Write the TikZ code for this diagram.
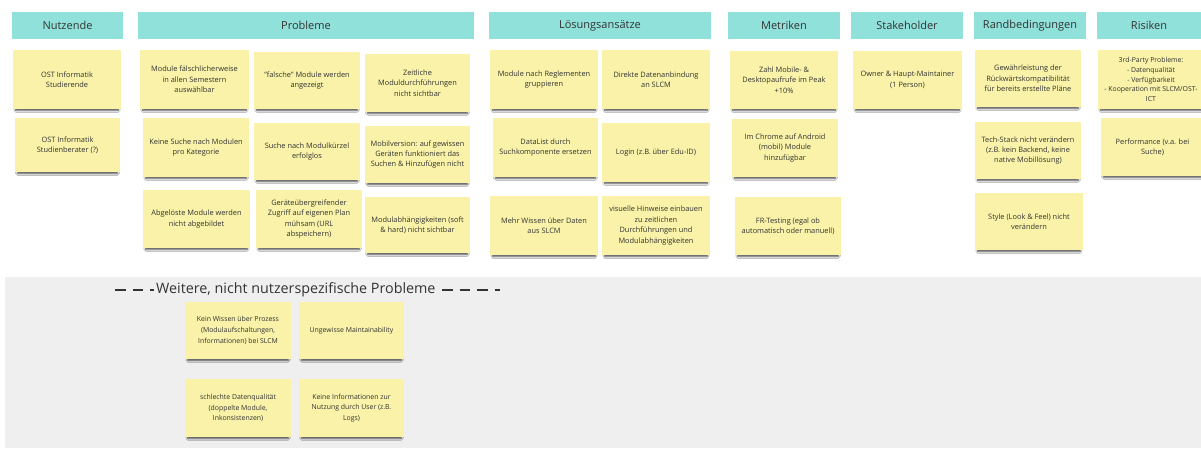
\documentclass[tikz,border=0pt]{standalone}
\usepackage{fontspec}
\setmainfont{Open Sans}
\usetikzlibrary{shadows.blur}

\definecolor{headteal}{HTML}{90E1DA}
\definecolor{stickyyellow}{HTML}{F9F2A8}
\definecolor{inkgray}{HTML}{333333}
\definecolor{framegray}{HTML}{EFEFEF}

\tikzset{
  header/.style={fill=headteal, text=inkgray, inner sep=0pt,
    font=\fontsize{11}{13}\selectfont},
  sticky/.style={fill=stickyyellow, text=inkgray, align=center, inner sep=1pt,
    font=\fontsize{7.4}{10.4}\selectfont,
    blur shadow={shadow xshift=0pt, shadow yshift=-3pt, shadow scale=0.95,
      shadow blur radius=2pt, shadow blur steps=6, shadow opacity=75}},
  smallsticky/.style={sticky, font=\fontsize{6.9}{10.6}\selectfont},
  titledash/.style={draw=inkgray, line width=2.4pt, dash pattern=on 10.5pt off 7pt},
}

% box from its corners: name, x1, y1, x2, y2, style, text
\newcommand{\cardat}[7]{%
  \node[#6, minimum width={(#4-#2)*1pt}, minimum height={(#5-#3)*1pt}]
    (#1) at ({(#2+#4)/2},{(#3+#5)/2}) {#7};}

\begin{document}
\begin{tikzpicture}[x=1pt, y=-1pt]
\useasboundingbox (0,0) rectangle (1201,448);
\fill[white] (0,0) rectangle (1201,448);

% frame for the further problems
\node[fill=framegray, inner sep=0pt, minimum width=1196pt, minimum height=171pt,
  anchor=north west] (frame) at (5,277) {};

% column headers
\cardat{hNutz}{12}{12}{123}{39}{header}{Nutzende}
\cardat{hProb}{138}{12}{474}{39}{header}{Probleme}
\cardat{hLoes}{489}{12}{711}{39}{header}{Lösungsansätze}
\cardat{hMetr}{728}{12}{840}{39}{header}{Metriken}
\cardat{hStak}{851}{12}{963}{39}{header}{Stakeholder}
\cardat{hRand}{974}{12}{1086}{39}{header}{Randbedingungen}
\cardat{hRisk}{1097}{12}{1201}{39}{header}{Risiken}

% Nutzende
\cardat{u1}{13}{50}{121}{109}{sticky}{OST Informatik\\Studierende}
\cardat{u2}{15}{118}{120}{172}{sticky}{OST Informatik\\Studienberater (?)}

% Probleme
\cardat{p1}{140}{50}{249}{109}{sticky}{Module fälschlicherweise\\in allen Semestern\\auswählbar}
\cardat{p2}{254}{52}{360}{109}{sticky}{"falsche" Module werden\\angezeigt}
\cardat{p3}{365}{54}{470}{112}{sticky}{Zeitliche\\Moduldurchführungen\\nicht sichtbar}
\cardat{p4}{143}{118}{249}{177}{sticky}{Keine Suche nach Modulen\\pro Kategorie}
\cardat{p5}{254}{123}{360}{180}{sticky}{Suche nach Modulkürzel\\erfolglos}
\cardat{p6}{365}{126}{470}{183}{sticky}{Mobilversion: auf gewissen\\Geräten funktioniert das\\Suchen \& Hinzufügen nicht}
\cardat{p7}{143}{190}{250}{248}{sticky}{Abgelöste Module werden\\nicht abgebildet}
\cardat{p8}{256}{190}{362}{248}{sticky}{Geräteübergreifender\\Zugriff auf eigenen Plan\\mühsam (URL\\abspeichern)}
\cardat{p9}{365}{197}{470}{253}{sticky}{Modulabhängigkeiten (soft\\\& hard) nicht sichtbar}

% Lösungsansätze
\cardat{l1}{490}{50}{598}{109}{sticky}{Module nach Reglementen\\gruppieren}
\cardat{l2}{602}{50}{710}{109}{sticky}{Direkte Datenanbindung\\an SLCM}
\cardat{l3}{493}{118}{598}{177}{sticky}{DataList durch\\Suchkomponente ersetzen}
\cardat{l4}{602}{123}{710}{182}{sticky}{Login (z.B. über Edu-ID)}
\cardat{l5}{490}{196}{598}{255}{sticky}{Mehr Wissen über Daten\\aus SLCM}
\cardat{l6}{602}{196}{710}{255}{sticky}{visuelle Hinweise einbauen\\zu zeitlichen\\Durchführungen und\\Modulabhängigkeiten}

% Metriken
\cardat{m1}{730}{51}{838}{109}{sticky}{Zahl Mobile- \&\\Desktopaufrufe im Peak\\+10\%}
\cardat{m2}{732}{119}{838}{177}{sticky}{Im Chrome auf Android\\(mobil) Module\\hinzufügbar}
\cardat{m3}{735}{197}{841}{255}{sticky}{FR-Testing (egal ob\\automatisch oder manuell)}

% Stakeholder
\cardat{s1}{853}{51}{962}{109}{sticky}{Owner \& Haupt-Maintainer\\(1 Person)}

% Randbedingungen
\cardat{r1}{975}{50}{1081}{107}{sticky}{Gewährleistung der\\Rückwärtskompatibilität\\für bereits erstellte Pläne}
\cardat{r2}{975}{122}{1081}{179}{sticky}{Tech-Stack nicht verändern\\(z.B. kein Backend, keine\\native Mobillösung)}
\cardat{r3}{975}{193}{1083}{250}{sticky}{Style (Look \& Feel) nicht\\verändern}

% Risiken
\cardat{k1}{1098}{50}{1204}{109}{sticky, font=\fontsize{6.9}{9.6}\selectfont}{3rd-Party Probleme:\\- Datenqualität\\- Verfügbarkeit\\- Kooperation mit SLCM/OST-\\ICT}
\cardat{k2}{1101}{118}{1204}{176}{sticky}{Performance (v.a. bei\\Suche)}

% further, not user specific problems
\coordinate (dl1) at (115,290);
\coordinate (dl2) at (154,290);
\coordinate (dr1) at (442,290);
\coordinate (dr2) at (500,290);
\draw[titledash] (dl1) -- (dl2);
\draw[titledash] (dr1) -- (dr2);
\node[anchor=west, inner sep=0pt, text=inkgray, font=\fontsize{14.3}{17}\selectfont]
  (ftitle) at (156,289.5) {Weitere, nicht nutzerspezifische Probleme};

\cardat{b1}{185}{302}{291}{359}{smallsticky}{Kein Wissen über Prozess\\(Modulaufschaltungen,\\Informationen) bei SLCM}
\cardat{b2}{299}{302}{404}{359}{smallsticky}{Ungewisse Maintainability}
\cardat{b3}{185}{379}{291}{437}{smallsticky}{schlechte Datenqualität\\(doppelte Module,\\Inkonsistenzen)}
\cardat{b4}{299}{379}{404}{437}{smallsticky}{Keine Informationen zur\\Nutzung durch User (z.B.\\Logs)}
\end{tikzpicture}
\end{document}
